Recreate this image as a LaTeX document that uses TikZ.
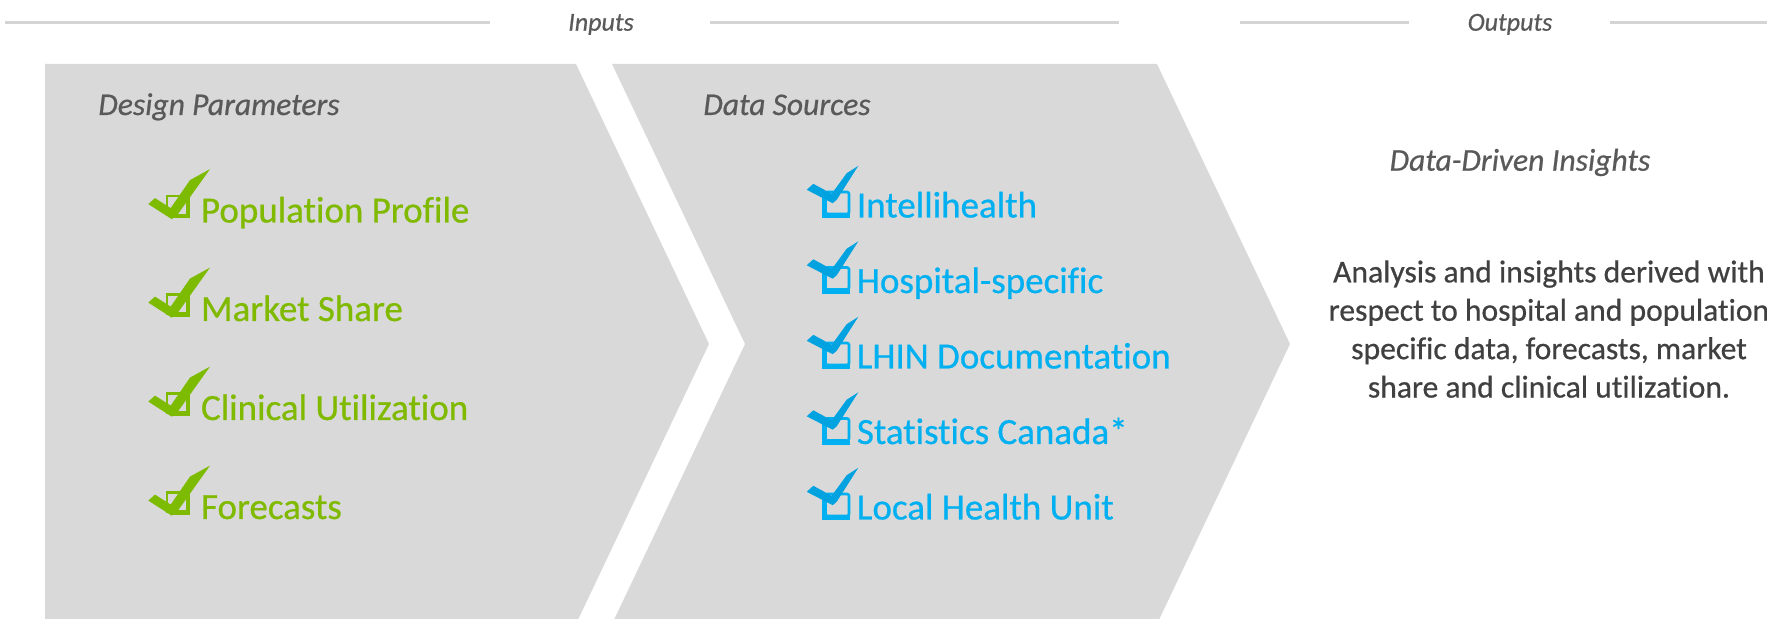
\documentclass[tikz,border=0pt]{standalone}
\usepackage{fontspec}
\setmainfont{Carlito}[Ligatures={NoCommon},FakeBold=0.6]

\definecolor{panelgray}{HTML}{D9D9D9}
\definecolor{rulegray}{HTML}{D4D4D4}
\definecolor{headgray}{HTML}{595959}
\definecolor{bodygray}{HTML}{404040}
\definecolor{itemgreen}{HTML}{80BA00}
\definecolor{tickgreen}{HTML}{7CBB00}
\definecolor{itemblue}{HTML}{00B0F0}
\definecolor{tickblue}{HTML}{00A3E0}

\begin{document}
\begin{tikzpicture}[x=0.5pt,y=-0.5pt,
  panel/.style={fill=panelgray},
  rulebar/.style={draw=rulegray,line width=1.5pt},
  tabtitle/.style={font=\fontsize{13}{15}\selectfont\itshape,text=headgray,inner sep=0,anchor=base},
  heading/.style={font=\fontsize{15.8}{19}\selectfont\itshape,text=headgray,inner sep=0,anchor=base west},
  greenitem/.style={font=\fontsize{18.5}{22}\selectfont,text=itemgreen,inner sep=0,anchor=base west},
  blueitem/.style={font=\fontsize{18.5}{22}\selectfont,text=itemblue,inner sep=0,anchor=base west},
  bodytext/.style={font=\fontsize{15.8}{19.2}\selectfont,text=bodygray,inner sep=0,align=center},
  pics/greencheck/.style={code={
    \draw[itemgreen,line width=1.1pt] (-33.7,-26.5) rectangle (-13.5,-7.5);
    \fill[itemgreen] (-14.5,-27.6) rectangle (-10.4,-4.2);
    \fill[itemgreen] (-31,-8.4) rectangle (-10.4,-4.2);
    \fill[tickgreen] (-52.3,-18.4) -- (-45.6,-24.4) -- (-29.9,-14.4) -- (-10.6,-42.4)
      -- (9.4,-53.4) -- (-23.9,-6.7) -- (-28.9,-3.4) -- cycle;
  }},
  pics/bluecheck/.style={code={
    \draw[itemblue,line width=1.3pt,rounded corners=1pt] (-31,-25.5) rectangle (-7.5,-3.5);
    \fill[itemblue] (-34.8,-20) rectangle (-30,0.8);
    \fill[itemblue] (-34.8,-4.6) rectangle (-6.3,0.8);
    \fill[tickblue] (-49.8,-27.7) -- (-43.2,-33.7) -- (-24.8,-23.7) -- (-9.8,-44.3)
      -- (1.8,-51.7) -- (-19.8,-17.7) -- (-23.8,-14.3) -- cycle;
  }}
]
\useasboundingbox (0,0) rectangle (1767,619);
\clip (0,0) rectangle (1767,619);

% chevron panels
\fill[panel] (45,64) -- (576,64) -- (709,344) -- (576,624) -- (45,624) -- cycle;
\fill[panel] (612,64) -- (1157,64) -- (1290,344) -- (1157,624) -- (612,624) -- (745,344) -- cycle;

% section titles with their rules
\node[tabtitle] (inputs) at (601,30.7) {Inputs};
\node[tabtitle] (outputs) at (1510,30.7) {Outputs};
\draw[rulebar] (5,23) -- (490,23);
\draw[rulebar] (710,23) -- (1119,23);
\draw[rulebar] (1240,23) -- (1409,23);
\draw[rulebar] (1610,23) -- (1767,23);

% panel headings
\node[heading] (design) at (98,115) {Design Parameters};
\node[heading] (sources) at (703,115) {Data Sources};
\node[heading,anchor=base] (insights) at (1520,170.7) {Data-Driven Insights};

% design parameters
\node[greenitem] (popprofile) at (200.6,222.5) {Population Profile};
\node[greenitem] (mktshare) at (200.6,321) {Market Share};
\node[greenitem] (clinutil) at (200.6,420) {Clinical Utilization};
\node[greenitem] (forecasts) at (200.6,519) {Forecasts};
\foreach \n in {popprofile,mktshare,clinutil,forecasts}
  \pic at (\n.base west) {greencheck};

% data sources
\node[blueitem] (intelli) at (856.5,217.5) {Intellihealth};
\node[blueitem] (hospspec) at (856.5,293) {Hospital-specific};
\node[blueitem] (lhin) at (856.5,368.5) {LHIN Documentation};
\node[blueitem] (statcan) at (856.5,444) {Statistics Canada*};
\node[blueitem] (localhu) at (856.5,519.5) {Local Health Unit};
\foreach \n in {intelli,hospspec,lhin,statcan,localhu}
  \pic at (\n.base west) {bluecheck};

% outputs description
\node[bodytext,anchor=north] (analysis) at (1549,260)
  {Analysis and insights derived with\\respect to hospital and population\\specific data, forecasts, market\\share and clinical utilization.};
\end{tikzpicture}
\end{document}
